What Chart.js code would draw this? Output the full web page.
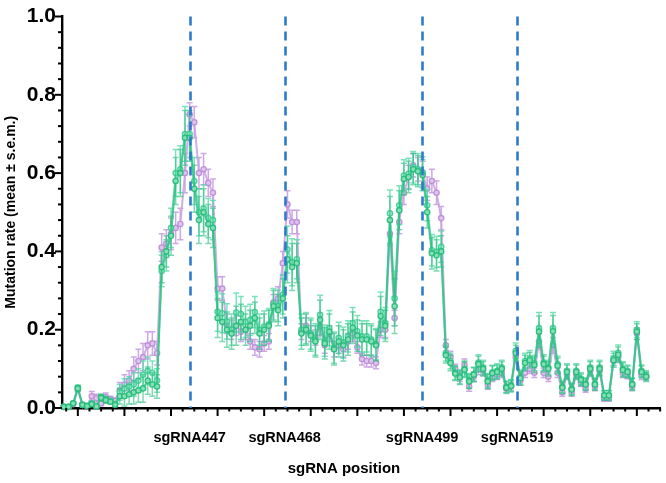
<!DOCTYPE html>
<html>
<head>
<meta charset="utf-8">
<script src="https://cdn.jsdelivr.net/npm/chart.js@4"></script>
<style>
  html, body { margin: 0; padding: 0; background: #fff; overflow: hidden; }
  #myChart { display: block; }
</style>
</head>
<body>
<canvas id="myChart" width="666" height="483"></canvas>
<script>
// first sequence position shown (points are one position apart)
const firstPos = -3;

const purple = [
  0.003, 0.003, 0.010, 0.048, 0.008, 0.005, 0.030, 0.025, 0.012, 0.028,
  0.022, 0.018, 0.045, 0.060, 0.070, 0.100, 0.120, 0.130, 0.160, 0.165,
  0.140, 0.410, 0.420, 0.445, 0.460, 0.470, 0.600, 0.750, 0.730, 0.600,
  0.610, 0.575, 0.550, 0.305, 0.305, 0.215, 0.200, 0.210, 0.195, 0.200,
  0.170, 0.155, 0.150, 0.165, 0.170, 0.270, 0.280, 0.370, 0.520, 0.475,
  0.475, 0.195, 0.210, 0.190, 0.180, 0.210, 0.160, 0.190, 0.150, 0.160,
  0.150, 0.170, 0.190, 0.155, 0.125, 0.120, 0.120, 0.115, 0.200, 0.200,
  0.445, 0.230, 0.475, 0.550, 0.590, 0.620, 0.610, 0.600, 0.560, 0.580,
  0.550, 0.485, 0.160, 0.130, 0.100, 0.080, 0.110, 0.055, 0.080, 0.100,
  0.095, 0.060, 0.080, 0.085, 0.090, 0.050, 0.055, 0.130, 0.070, 0.090,
  0.100, 0.090, 0.170, 0.090, 0.080, 0.160, 0.090, 0.040, 0.085, 0.040,
  0.085, 0.065, 0.050, 0.095, 0.055, 0.095, 0.025, 0.025, 0.120, 0.130,
  0.090, 0.085, 0.055, 0.190, 0.085, 0.080
];
const greenLight = [
  0.003, 0.003, 0.012, 0.052, 0.008, 0.005, 0.012, 0.004, 0.028, 0.022,
  0.018, 0.010, 0.040, 0.050, 0.055, 0.060, 0.070, 0.085, 0.095, 0.090,
  0.070, 0.350, 0.390, 0.460, 0.600, 0.610, 0.700, 0.700, 0.580, 0.500,
  0.510, 0.485, 0.480, 0.246, 0.242, 0.221, 0.200, 0.244, 0.240, 0.220,
  0.225, 0.245, 0.200, 0.208, 0.214, 0.265, 0.261, 0.290, 0.405, 0.372,
  0.380, 0.200, 0.204, 0.190, 0.175, 0.238, 0.172, 0.204, 0.154, 0.179,
  0.167, 0.183, 0.217, 0.196, 0.183, 0.183, 0.175, 0.163, 0.246, 0.217,
  0.497, 0.280, 0.518, 0.594, 0.598, 0.615, 0.610, 0.602, 0.518, 0.403,
  0.399, 0.412, 0.140, 0.120, 0.090, 0.080, 0.100, 0.070, 0.087, 0.116,
  0.104, 0.070, 0.091, 0.095, 0.104, 0.054, 0.058, 0.146, 0.079, 0.120,
  0.127, 0.115, 0.204, 0.116, 0.104, 0.204, 0.112, 0.054, 0.095, 0.049,
  0.095, 0.075, 0.062, 0.104, 0.062, 0.104, 0.033, 0.033, 0.127, 0.141,
  0.100, 0.095, 0.062, 0.200, 0.095, 0.083
];
const greenDark = [
  0.003, 0.003, 0.012, 0.050, 0.008, 0.005, 0.010, 0.004, 0.026, 0.020,
  0.016, 0.008, 0.030, 0.030, 0.035, 0.040, 0.045, 0.050, 0.070, 0.060,
  0.055, 0.360, 0.400, 0.440, 0.580, 0.600, 0.690, 0.690, 0.560, 0.480,
  0.500, 0.470, 0.460, 0.230, 0.220, 0.200, 0.190, 0.210, 0.220, 0.200,
  0.210, 0.230, 0.190, 0.200, 0.210, 0.260, 0.250, 0.280, 0.380, 0.360,
  0.370, 0.190, 0.200, 0.185, 0.170, 0.225, 0.165, 0.195, 0.150, 0.170,
  0.160, 0.175, 0.205, 0.185, 0.175, 0.175, 0.170, 0.160, 0.235, 0.210,
  0.480, 0.260, 0.505, 0.585, 0.590, 0.610, 0.605, 0.595, 0.500, 0.395,
  0.390, 0.400, 0.135, 0.115, 0.088, 0.078, 0.098, 0.068, 0.085, 0.112,
  0.100, 0.068, 0.089, 0.092, 0.100, 0.052, 0.056, 0.140, 0.076, 0.115,
  0.122, 0.110, 0.195, 0.112, 0.100, 0.196, 0.108, 0.052, 0.092, 0.047,
  0.092, 0.072, 0.060, 0.100, 0.060, 0.100, 0.032, 0.032, 0.122, 0.136,
  0.097, 0.092, 0.060, 0.195, 0.092, 0.080
];
const semPurple = [
  0.002, 0.002, 0.004, 0.006, 0.004, 0.003, 0.012, 0.010, 0.006, 0.010,
  0.008, 0.008, 0.020, 0.025, 0.025, 0.030, 0.030, 0.035, 0.035, 0.030,
  0.030, 0.035, 0.035, 0.040, 0.040, 0.040, 0.050, 0.030, 0.040, 0.040,
  0.040, 0.035, 0.035, 0.030, 0.030, 0.025, 0.025, 0.025, 0.025, 0.025,
  0.020, 0.020, 0.020, 0.020, 0.020, 0.020, 0.030, 0.030, 0.035, 0.030,
  0.030, 0.020, 0.020, 0.020, 0.020, 0.025, 0.020, 0.020, 0.020, 0.020,
  0.020, 0.020, 0.020, 0.015, 0.015, 0.015, 0.015, 0.015, 0.020, 0.020,
  0.030, 0.020, 0.030, 0.030, 0.030, 0.030, 0.030, 0.030, 0.030, 0.030,
  0.030, 0.030, 0.015, 0.015, 0.012, 0.012, 0.015, 0.012, 0.012, 0.015,
  0.012, 0.012, 0.012, 0.012, 0.012, 0.010, 0.010, 0.015, 0.012, 0.012,
  0.012, 0.012, 0.020, 0.012, 0.012, 0.020, 0.012, 0.010, 0.012, 0.010,
  0.012, 0.010, 0.010, 0.012, 0.010, 0.012, 0.008, 0.008, 0.012, 0.012,
  0.012, 0.010, 0.010, 0.015, 0.012, 0.010
];
const semGreen = [
  0.002, 0.002, 0.004, 0.006, 0.004, 0.003, 0.006, 0.003, 0.008, 0.008,
  0.006, 0.005, 0.020, 0.025, 0.025, 0.030, 0.030, 0.035, 0.035, 0.030,
  0.030, 0.040, 0.040, 0.050, 0.060, 0.060, 0.070, 0.060, 0.060, 0.060,
  0.060, 0.050, 0.050, 0.050, 0.050, 0.045, 0.040, 0.050, 0.045, 0.040,
  0.040, 0.040, 0.040, 0.040, 0.040, 0.040, 0.040, 0.050, 0.060, 0.060,
  0.050, 0.040, 0.040, 0.040, 0.040, 0.050, 0.040, 0.045, 0.040, 0.040,
  0.040, 0.040, 0.040, 0.040, 0.040, 0.040, 0.040, 0.040, 0.050, 0.040,
  0.060, 0.070, 0.050, 0.040, 0.040, 0.040, 0.040, 0.040, 0.040, 0.040,
  0.040, 0.040, 0.020, 0.020, 0.018, 0.018, 0.020, 0.018, 0.018, 0.020,
  0.018, 0.018, 0.018, 0.018, 0.018, 0.015, 0.015, 0.020, 0.018, 0.020,
  0.020, 0.020, 0.040, 0.020, 0.018, 0.040, 0.020, 0.015, 0.018, 0.015,
  0.018, 0.015, 0.015, 0.018, 0.015, 0.018, 0.012, 0.012, 0.018, 0.020,
  0.018, 0.015, 0.015, 0.020, 0.015, 0.012
];

// sgRNA cut sites on the position axis
const guidePositions = [24, 44.4, 73.9, 94.3];
const guideLabels = ['sgRNA447', 'sgRNA468', 'sgRNA499', 'sgRNA519'];
const yMajorTicks = [0, 0.2, 0.4, 0.6, 0.8, 1.0];

const FONT = '"Liberation Sans", Arial, Helvetica, sans-serif';

function toPoints(arr) {
  return arr.map((v, i) => ({ x: firstPos + i, y: v }));
}

const errorBars = {
  id: 'errorBars',
  beforeDatasetDraw(chart, args) {
    const ds = chart.data.datasets[args.index];
    if (!ds.sem) return;
    const xs = chart.scales.x, ys = chart.scales.y, ctx = chart.ctx;
    ctx.save();
    ctx.strokeStyle = ds.barColor;
    ctx.lineWidth = 1.5;
    ds.data.forEach((p, i) => {
      const px = xs.getPixelForValue(p.x);
      const top = ys.getPixelForValue(p.y + ds.sem[i]);
      const bot = ys.getPixelForValue(Math.max(0, p.y - ds.sem[i]));
      ctx.beginPath();
      ctx.moveTo(px, top); ctx.lineTo(px, bot);
      ctx.moveTo(px - 3, top); ctx.lineTo(px + 3, top);
      ctx.moveTo(px - 3, bot); ctx.lineTo(px + 3, bot);
      ctx.stroke();
    });
    ctx.restore();
  }
};

const axisDecor = {
  id: 'axisDecor',
  afterDatasetsDraw(chart) {
    const ctx = chart.ctx, xs = chart.scales.x, ys = chart.scales.y;
    const area = chart.chartArea;
    ctx.save();
    // dashed guide lines
    ctx.strokeStyle = '#2f7bcb';
    ctx.lineWidth = 2.6;
    ctx.setLineDash([9, 6]);
    guidePositions.forEach(g => {
      const px = Math.round(xs.getPixelForValue(g)) + 0.5;
      ctx.beginPath();
      ctx.moveTo(px, area.top);
      ctx.lineTo(px, area.bottom);
      ctx.stroke();
    });
    ctx.setLineDash([]);
    // y tick marks
    ctx.strokeStyle = '#000';
    ctx.lineWidth = 2;
    for (let k = 0; k <= 25; k++) {
      const py = ys.getPixelForValue(k * 0.04);
      const len = (k % 5 === 0) ? 7 : 4;
      ctx.beginPath();
      ctx.moveTo(area.left, py);
      ctx.lineTo(area.left - len, py);
      ctx.stroke();
    }
    // x tick marks
    for (let v = -2.5; v <= xs.max; v += 2.5) {
      const px = xs.getPixelForValue(v);
      const major = Math.abs(v % 10) < 0.01;
      ctx.beginPath();
      ctx.moveTo(px, area.bottom);
      ctx.lineTo(px, area.bottom + (major ? 8 : 3.5));
      ctx.stroke();
    }
    // x axis title
    ctx.fillStyle = '#000';
    ctx.font = 'bold 15px ' + FONT;
    ctx.textAlign = 'center';
    ctx.textBaseline = 'middle';
    ctx.fillText('sgRNA position', 344, 469);
    ctx.restore();
  }
};

const lineStyle = {
  showLine: true,
  tension: 0,
  borderWidth: 2,
  pointRadius: 2.6,
  pointBorderWidth: 1.4,
  clip: false
};

const ctx = document.getElementById('myChart');
const myChart = new Chart(ctx, {
  type: 'scatter',
  data: {
    datasets: [
      Object.assign({
        label: 'dark',
        data: toPoints(greenDark),
        sem: semGreen,
        barColor: 'rgba(40,190,125,0.6)',
        borderColor: 'rgba(44,192,128,0.75)',
        backgroundColor: 'rgba(140,226,185,0.9)',
        pointBorderColor: 'rgba(36,186,120,0.9)'
      }, lineStyle),
      Object.assign({
        label: 'light',
        data: toPoints(greenLight),
        sem: semGreen,
        barColor: 'rgba(80,216,166,0.75)',
        borderColor: 'rgba(80,212,164,0.75)',
        backgroundColor: 'rgba(160,236,206,0.9)',
        pointBorderColor: 'rgba(66,204,150,0.9)'
      }, lineStyle),
      Object.assign({
        label: 'purple',
        data: toPoints(purple),
        sem: semPurple,
        barColor: 'rgba(198,152,224,0.85)',
        borderColor: 'rgba(202,160,226,0.85)',
        backgroundColor: 'rgba(224,198,238,0.95)',
        pointBorderColor: 'rgba(190,142,216,0.95)'
      }, lineStyle)
    ]
  },
  options: {
    responsive: false,
    animation: false,
    layout: { padding: { top: 0, right: 0, bottom: 0, left: 0 } },
    plugins: { legend: { display: false }, tooltip: { enabled: false } },
    scales: {
      x: {
        type: 'linear',
        min: -3.4,
        max: 125.1,
        grid: { display: false, drawTicks: false },
        border: { display: true, color: '#000', width: 2.4 },
        afterBuildTicks: (scale) => {
          scale.ticks = guidePositions.map(v => ({ value: v }));
        },
        afterFit: (scale) => { scale.height = 75; },
        ticks: {
          autoSkip: false,
          maxRotation: 0,
          padding: 21,
          color: '#000',
          font: { family: FONT, size: 14.5, weight: 'bold' },
          callback: (value, index) => guideLabels[index]
        }
      },
      y: {
        min: 0,
        max: 1,
        grid: { display: false, drawTicks: false },
        border: { display: true, color: '#000', width: 2.4 },
        afterBuildTicks: (scale) => {
          scale.ticks = yMajorTicks.map(v => ({ value: v }));
        },
        afterFit: (scale) => { scale.width = 62; },
        ticks: {
          padding: 6,
          color: '#000',
          font: { family: FONT, size: 21, weight: 'bold', lineHeight: 1 },
          callback: (value) => value.toFixed(1)
        },
        title: {
          display: true,
          text: 'Mutation rate (mean \u00B1 s.e.m.)',
          color: '#000',
          padding: { top: 3, bottom: 0 },
          font: { family: FONT, size: 14, weight: 'bold' }
        }
      }
    }
  },
  plugins: [errorBars, axisDecor]
});
</script>
</body>
</html>
